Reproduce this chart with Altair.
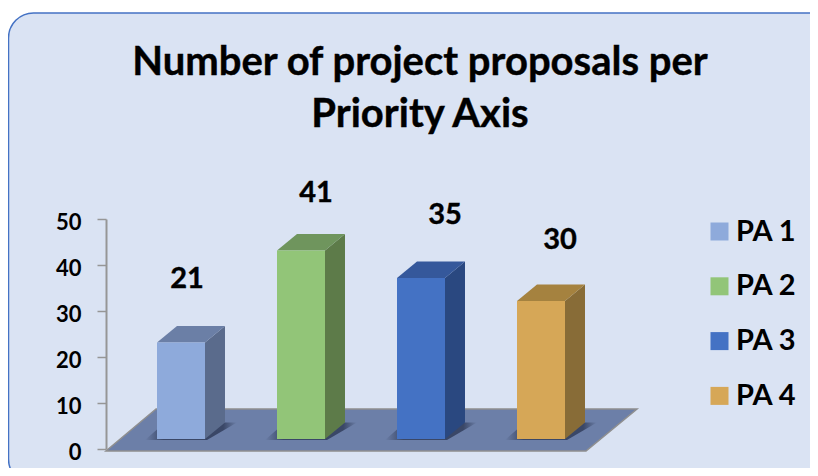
import altair as alt
import pandas as pd

categories = ["PA 1", "PA 2", "PA 3", "PA 4"]
values = [21, 41, 35, 30]
front_colors = ["#8eaadb", "#92c578", "#4472c4", "#d6a757"]
side_colors = ["#5a6b8c", "#5d7b49", "#2a4880", "#886c37"]
top_colors = ["#6b7fa6", "#6f955d", "#35589b", "#a5823f"]
title_lines = ["Number of project proposals per", "Priority Axis"]

FONT = "Lato"
PX_PER_UNIT = 4.6        # vertical px per value unit
SLOT = 120.0             # horizontal px per category
W, H = 530, 230
PAD = {"left": 98, "top": 211, "right": 174, "bottom": 19}
ORIGIN = 51 / SLOT       # first bar's offset from the axis, in slots
BASE = 10 / PX_PER_UNIT  # floor height of bar fronts
BAR_W = 48 / SLOT
DX = 20 / SLOT
DY = 16.5 / PX_PER_UNIT

rows_front, rows_side, rows_top, rows_shadow, rows_label = [], [], [], [], []
label_dx = [30, 39, 48, 43]      # px from bar's left edge to label centre
label_gap = [47, 41, 47, 45]     # px from the back top edge to label centre
for i, (c, v) in enumerate(zip(categories, values)):
    x0, x1 = float(i), i + BAR_W
    top = BASE + v
    rows_front.append({"cat": c, "x": x0, "x2": x1, "y": BASE, "y2": top})
    rows_side += [
        {"fill": side_colors[i], "x": x1, "y": BASE, "y2": top},
        {"fill": side_colors[i], "x": x1 + DX, "y": BASE + DY, "y2": top + DY},
    ]
    rows_top += [
        {"fill": top_colors[i], "y": top, "x": x0, "x2": x1},
        {"fill": top_colors[i], "y": top + DY, "x": x0 + DX, "x2": x1 + DX},
    ]
    rows_shadow += [
        {"id": c, "y": BASE - 0.2, "x": x0 - 12 / SLOT, "x2": x1 + 2 / SLOT},
        {"id": c, "y": BASE + DY, "x": x0 + 8 / SLOT, "x2": x1 + DX + 12 / SLOT},
    ]
    rows_label.append({"t": str(v), "x": i + label_dx[i] / SLOT,
                       "y": top + DY + label_gap[i] / PX_PER_UNIT})

x_scale = alt.Scale(domain=[-ORIGIN, (W / SLOT) - ORIGIN], nice=False, zero=False)
y_scale = alt.Scale(domain=[0, 50], nice=False, zero=False)
X = alt.X("x:Q", scale=x_scale, axis=None)
Y = alt.Y("y:Q", scale=y_scale, stack=None,
          axis=alt.Axis(values=[0, 10, 20, 30, 40, 50], title=None, grid=False, zindex=1,
                        domainColor="#969696", domainWidth=2, tickColor="#969696",
                        tickWidth=1.5, tickSize=9, labelFont=FONT, labelFontSize=22,
                        labelFontWeight="bold", labelColor="#000000", labelPadding=16,
                        labelOffset=3))

panel = alt.Chart(pd.DataFrame({"a": [0]})).mark_rect(
    fill="#dae3f3", stroke="#4472c4", strokeWidth=1.5, cornerRadius=25
).encode(x=alt.value(-97.5), x2=alt.value(727), y=alt.value(-206), y2=alt.value(265))

plate_df = pd.DataFrame([
    {"y": -2 / PX_PER_UNIT, "x": -ORIGIN, "x2": (586 - 157) / SLOT},
    {"y": 40 / PX_PER_UNIT, "x": -1 / SLOT, "x2": (637 - 157) / SLOT},
])
plate = alt.Chart(plate_df).mark_area(
    orient="horizontal", color="#6c7fa8", stroke="#8f8f8f", strokeWidth=1.5
).encode(x=X, x2="x2:Q", y=Y)

shadow = alt.Chart(pd.DataFrame(rows_shadow)).mark_area(
    orient="horizontal",
    color=alt.Gradient(gradient="linear", x1=0, x2=1, y1=0, y2=0, stops=[
        alt.GradientStop(color="#6c7fa8", offset=0),
        alt.GradientStop(color="#3a4767", offset=0.2),
        alt.GradientStop(color="#3a4767", offset=0.85),
        alt.GradientStop(color="#6c7fa8", offset=1),
    ]),
).encode(x=X, x2="x2:Q", y=Y, detail="id:N")

side = alt.Chart(pd.DataFrame(rows_side)).mark_area(orient="vertical").encode(
    x=X, y=Y, y2="y2:Q", fill=alt.Fill("fill:N", scale=None))
top_face = alt.Chart(pd.DataFrame(rows_top)).mark_area(orient="horizontal").encode(
    x=X, x2="x2:Q", y=Y, fill=alt.Fill("fill:N", scale=None))
front = alt.Chart(pd.DataFrame(rows_front)).mark_rect().encode(
    x=X, x2="x2:Q", y=Y, y2="y2:Q",
    color=alt.Color("cat:N", scale=alt.Scale(domain=categories, range=front_colors),
                    legend=alt.Legend(orient="none", legendX=599, legendY=-2, title=None,
                                      symbolType="square", symbolSize=324, symbolStrokeWidth=0,
                                      symbolOpacity=1, labelFont=FONT, labelFontSize=29,
                                      labelFontWeight="bold", labelColor="#000000",
                                      labelOffset=2, rowPadding=24.8, labelLimit=200)))
labels = alt.Chart(pd.DataFrame(rows_label)).mark_text(
    font=FONT, fontSize=29, fontWeight="bold", color="#000000", baseline="middle", align="center",
    stroke="#000000", strokeWidth=0.4
).encode(x=X, y=Y, text="t:N")

title_style = dict(font=FONT, fontSize=40, fontWeight="bold", color="#000000",
                   baseline="middle", align="center", stroke="#000000", strokeWidth=0.4)
title_1 = alt.Chart(pd.DataFrame({"t": [title_lines[0]]})).mark_text(**title_style).encode(
    x=alt.value(314), y=alt.value(-156), text="t:N")
title_2 = alt.Chart(pd.DataFrame({"t": [title_lines[1]]})).mark_text(**title_style).encode(
    x=alt.value(314), y=alt.value(-104), text="t:N")

chart = alt.layer(panel, plate, shadow, side, top_face, front, labels, title_1, title_2).properties(
    width=W, height=H,
    padding=PAD,
    autosize=alt.AutoSizeParams(type="none"),
    background="#ffffff",
).configure_view(stroke=None)

chart.save("out.html", embed_options={"renderer": "svg", "actions": False})
